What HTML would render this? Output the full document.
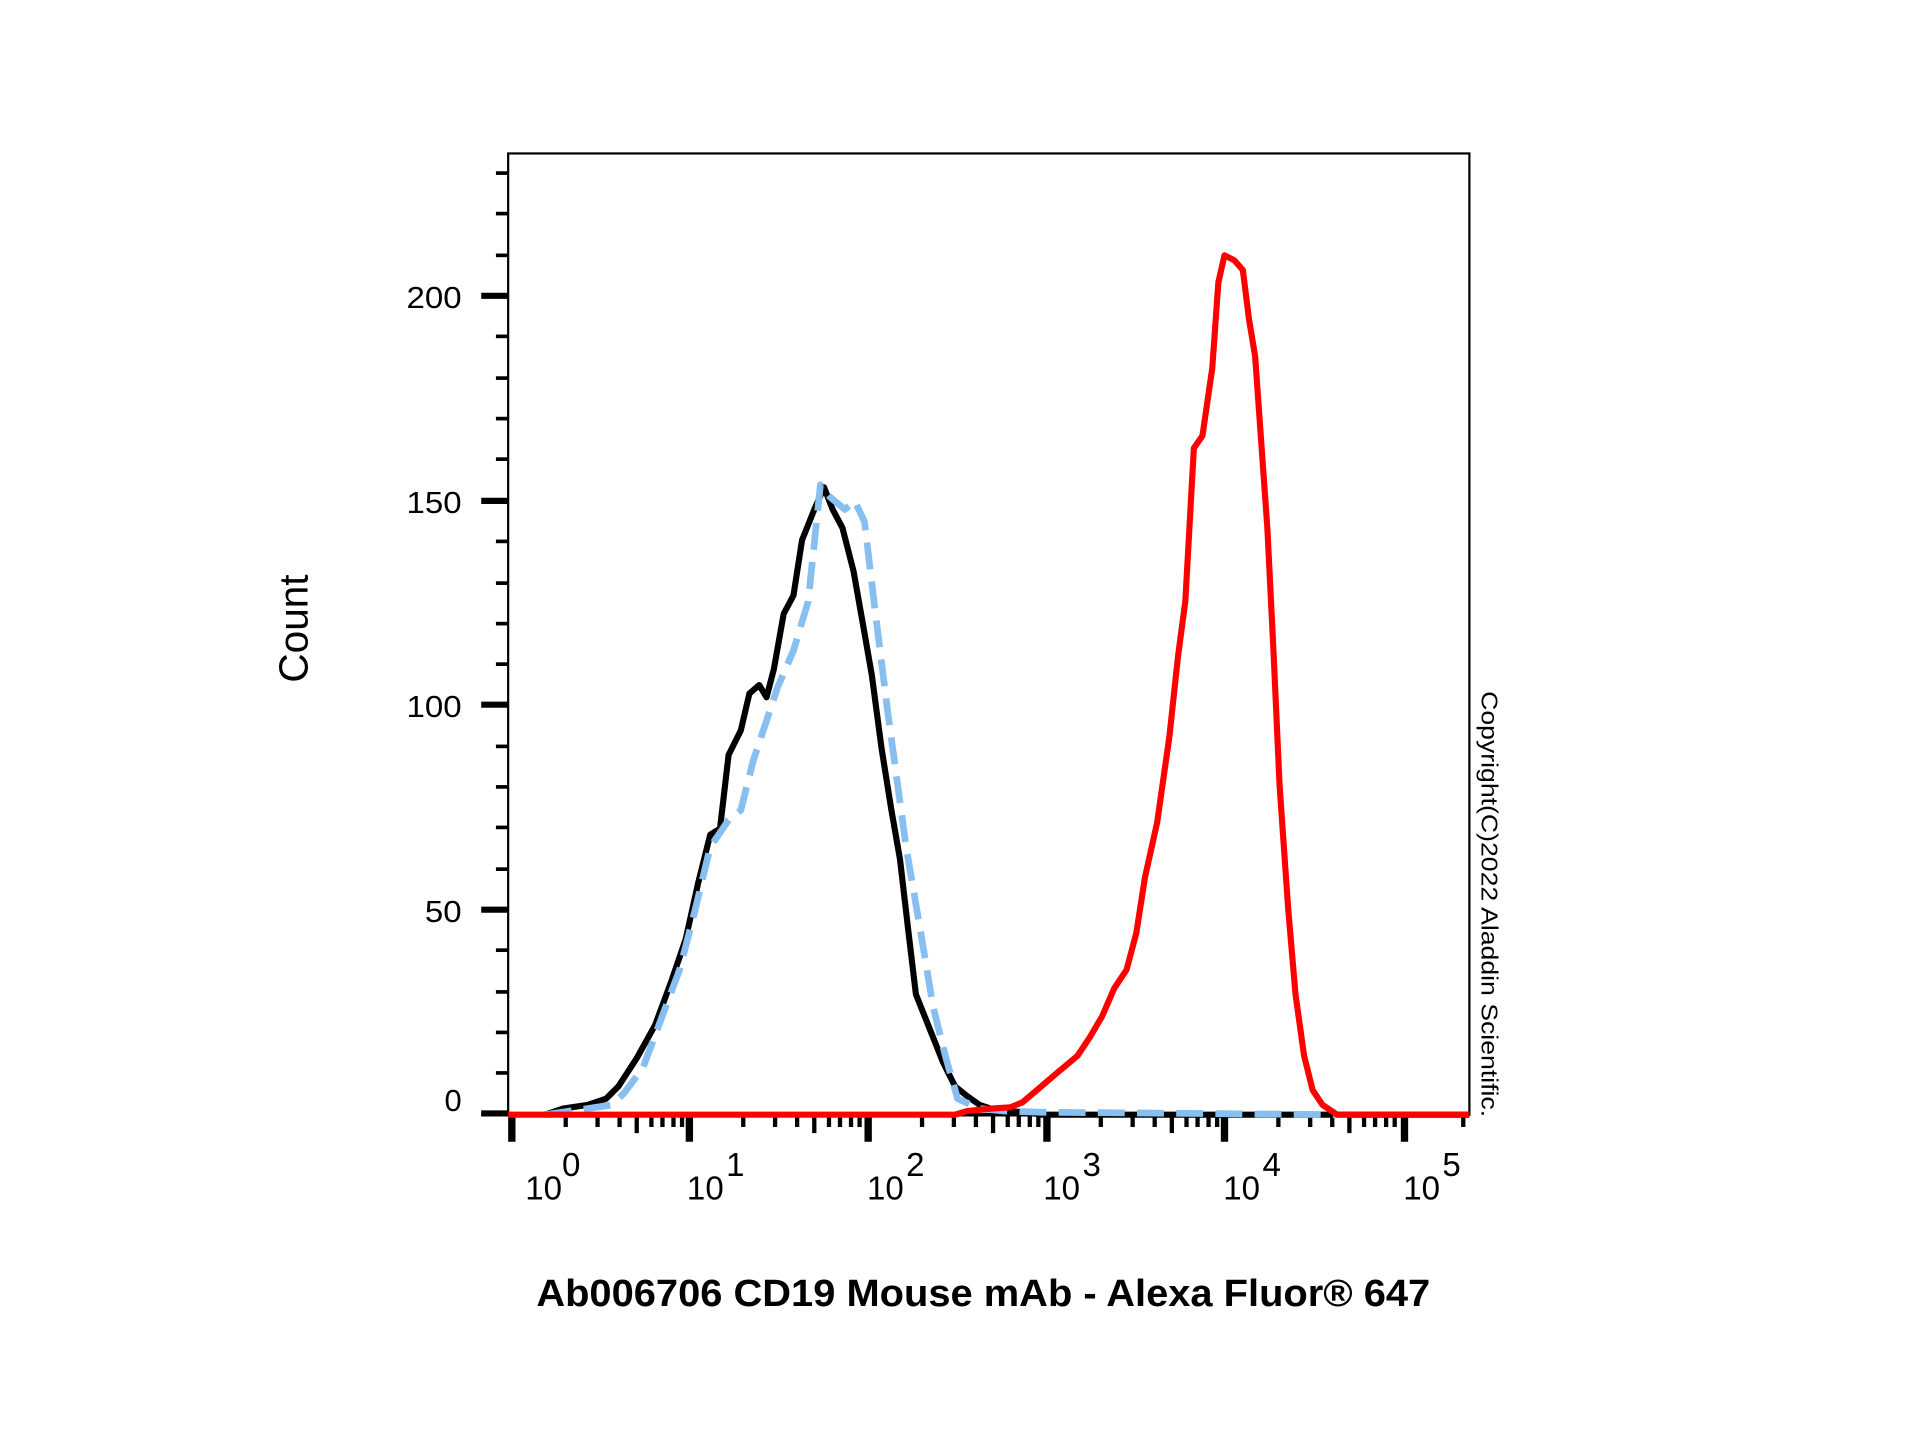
<!DOCTYPE html>
<html><head><meta charset="utf-8"><style>html,body{margin:0;padding:0;background:#fff}svg{display:block}</style></head>
<body>
<svg width="1920" height="1440" viewBox="0 0 1568 1173" preserveAspectRatio="none" xmlns="http://www.w3.org/2000/svg" font-family="Liberation Sans, Arial, sans-serif">
<rect x="0" y="0" width="1568" height="1173" fill="#fff"/>
<rect x="415" y="125" width="785" height="783" fill="none" stroke="#000" stroke-width="1.8"/>
<g stroke="#000" stroke-width="3">
<line x1="405" x2="415" y1="874" y2="874"/><line x1="405" x2="415" y1="841" y2="841"/><line x1="405" x2="415" y1="808" y2="808"/><line x1="405" x2="415" y1="774" y2="774"/>
<line x1="405" x2="415" y1="708" y2="708"/><line x1="405" x2="415" y1="674" y2="674"/><line x1="405" x2="415" y1="641" y2="641"/><line x1="405" x2="415" y1="608" y2="608"/>
<line x1="405" x2="415" y1="541" y2="541"/><line x1="405" x2="415" y1="508" y2="508"/><line x1="405" x2="415" y1="475" y2="475"/><line x1="405" x2="415" y1="441" y2="441"/>
<line x1="405" x2="415" y1="374" y2="374"/><line x1="405" x2="415" y1="341" y2="341"/><line x1="405" x2="415" y1="308" y2="308"/><line x1="405" x2="415" y1="274" y2="274"/>
<line x1="405" x2="415" y1="208" y2="208"/><line x1="405" x2="415" y1="174" y2="174"/><line x1="405" x2="415" y1="141" y2="141"/>
</g>
<g stroke="#000" stroke-width="5">
<line x1="393" x2="415" y1="907" y2="907"/><line x1="393" x2="415" y1="741" y2="741"/><line x1="393" x2="415" y1="574" y2="574"/><line x1="393" x2="415" y1="408" y2="408"/><line x1="393" x2="415" y1="241" y2="241"/>
</g>
<g font-size="25" text-anchor="end" fill="#000">
<text x="377" y="905" textLength="14" lengthAdjust="spacingAndGlyphs">0</text>
<text x="377" y="751" textLength="30" lengthAdjust="spacingAndGlyphs">50</text>
<text x="377" y="584" textLength="45" lengthAdjust="spacingAndGlyphs">100</text>
<text x="377" y="418" textLength="45" lengthAdjust="spacingAndGlyphs">150</text>
<text x="377" y="251" textLength="45" lengthAdjust="spacingAndGlyphs">200</text>
</g>
<g stroke="#000" stroke-width="3.5">
<path d="M462 908v10M488 908v10M506 908v10M520 908v15M532 908v10M541 908v10M550 908v10M557 908v10
M607 908v10M633 908v10M651 908v10M665 908v15M677 908v10M686 908v10M695 908v10M702 908v10
M753 908v10M779 908v10M797 908v10M811 908v15M823 908v10M832 908v10M841 908v10M848 908v10
M899 908v10M925 908v10M943 908v10M957 908v15M969 908v10M978 908v10M987 908v10M994 908v10
M1044 908v10M1070 908v10M1088 908v10M1102 908v15M1114 908v10M1123 908v10M1132 908v10M1139 908v10M1195 908v10"/>
</g>
<g stroke="#000" stroke-width="6">
<path d="M418 906v24M563 906v24M709 906v24M855 906v24M1000 906v24M1147 906v24"/>
</g>
<line x1="393" x2="1200" y1="908" y2="908" stroke="#000" stroke-width="3"/>
<g font-size="27" fill="#000">
<text x="429" y="977">10</text><text x="459" y="958">0</text>
<text x="561" y="977">10</text><text x="593" y="958">1</text>
<text x="708" y="977">10</text><text x="740" y="958">2</text>
<text x="852" y="977">10</text><text x="884" y="958">3</text>
<text x="999" y="977">10</text><text x="1031" y="958">4</text>
<text x="1146" y="977">10</text><text x="1178" y="958">5</text>
</g>
<polyline fill="none" stroke="#000" stroke-width="5" stroke-linejoin="round" points="445,908 460,903 480,900 495,895 505,885 520,862 535,835 548,800 560,765 570,720 580,680 588,675 595,615 605,595 612,565 620,558 626,568 632,545 640,500 648,485 655,440 665,415 673,397 680,415 688,430 697,465 705,510 712,550 720,610 728,660 735,700 742,760 748,810 760,840 770,865 780,885 790,893 800,900 815,905 840,906 850,908 1200,908"/>
<polyline fill="none" stroke="#86bff0" stroke-width="5.5" stroke-dasharray="22,10" stroke-linejoin="round" points="445,908 480,903 500,900 510,890 525,870 540,830 555,790 568,740 580,690 595,668 605,660 615,620 625,590 635,560 648,530 660,490 670,395 678,405 690,415 698,408 706,425 715,500 725,580 740,690 752,760 762,820 772,860 782,895 800,903 820,905 850,906 1100,908"/>
<polyline fill="none" stroke="#ff0000" stroke-width="5" stroke-linejoin="round" points="415,908 780,908 790,905 810,903 825,902 835,898 848,887 862,875 880,860 890,845 900,828 910,805 920,790 928,760 935,715 945,670 955,600 962,535 968,490 975,365 982,355 990,300 995,230 1000,208 1008,212 1015,220 1020,260 1025,290 1030,360 1035,430 1040,530 1045,640 1052,740 1058,810 1065,860 1072,888 1080,900 1092,908 1200,908"/>
<text transform="translate(251,512) rotate(-90)" font-size="33" text-anchor="middle">Count</text>
<text x="803" y="1064" font-size="31" font-weight="bold" text-anchor="middle" textLength="730" lengthAdjust="spacingAndGlyphs">Ab006706 CD19 Mouse mAb - Alexa Fluor® 647</text>
<text transform="translate(1210,563) rotate(90)" font-size="19" textLength="347" lengthAdjust="spacingAndGlyphs">Copyright(C)2022 Aladdin Scientific.</text>
</svg>
</body></html>
